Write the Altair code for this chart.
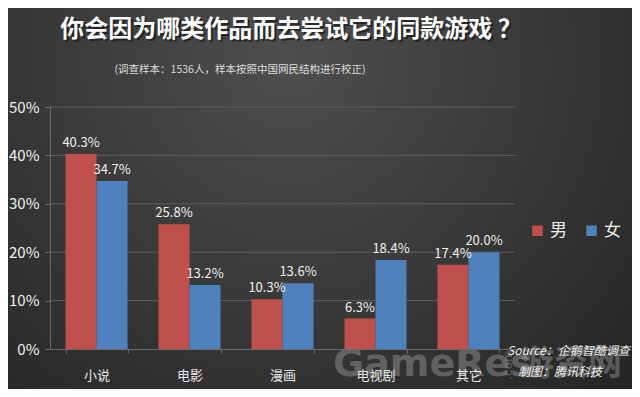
import altair as alt
import pandas as pd

categories = ["小说", "电影", "漫画", "电视剧", "其它"]
male = [40.3, 25.8, 10.3, 6.3, 17.4]
female = [34.7, 13.2, 13.6, 18.4, 20.0]
genders = ["男", "女"]
colors = ["#c0504d", "#4f81bd"]
y_ticks = [0, 10, 20, 30, 40, 50]

title_text = "你会因为哪类作品而去尝试它的同款游戏 ？"
subtitle_text = "(调查样本：1536人，样本按照中国网民结构进行校正)"
source_lines = ["Source：企鹅智酷调查", "制图：腾讯科技"]

FONT = "Noto Sans CJK SC"
W, H = 465, 242
PAD = {"left": 42, "top": 99, "right": 117, "bottom": 40}

rows = []
for c, m, f in zip(categories, male, female):
    rows.append({"cat": c, "gender": genders[0], "value": m, "label": f"{m:.1f}%"})
    rows.append({"cat": c, "gender": genders[1], "value": f, "label": f"{f:.1f}%"})
df = pd.DataFrame(rows)

one = pd.DataFrame({"a": [0]})
grid_df = pd.DataFrame({"v": y_ticks[1:]})

bg = alt.Chart(one).mark_rect(
    color=alt.Gradient(
        gradient="radial",
        stops=[alt.GradientStop(color="#4e4e4e", offset=0),
               alt.GradientStop(color="#3a3a3a", offset=0.5),
               alt.GradientStop(color="#252525", offset=1)],
        x1=0.45, y1=0.28, x2=0.45, y2=0.28, r1=0, r2=0.75,
    )
).encode(
    x=alt.value(-PAD["left"]), x2=alt.value(W + PAD["right"]),
    y=alt.value(-PAD["top"]), y2=alt.value(H + PAD["bottom"]),
)

y_scale = alt.Scale(domain=[0, 50], nice=False)
y_axis = alt.Axis(values=y_ticks, labelExpr="datum.value + '%'",
                  labelColor="#f0f0f0", labelFontSize=15, labelFont=FONT,
                  labelPadding=6, domainColor="#6a6a6a", tickColor="#6a6a6a",
                  tickSize=5, grid=False, zindex=1)

grid = alt.Chart(grid_df).mark_rule(color="#5e5e5e", strokeWidth=1).encode(
    y=alt.Y("v:Q", scale=y_scale, axis=y_axis, title=None),
    x=alt.value(0), x2=alt.value(W),
)

x_enc = alt.X("cat:N", sort=categories, title=None,
              scale=alt.Scale(paddingInner=0.333, paddingOuter=0.1667),
              axis=alt.Axis(labelAngle=0, labelColor="#e8e8e8", labelFontSize=13,
                            labelFont=FONT, labelPadding=16, domainColor="#6a6a6a",
                            tickColor="#6a6a6a", tickSize=4, tickBand="extent",
                            grid=False, zindex=1))
y_enc = alt.Y("value:Q", title=None, scale=y_scale, axis=y_axis)

base = alt.Chart(df).encode(
    x=x_enc,
    xOffset=alt.XOffset("gender:N", sort=genders),
)

bars = base.mark_bar().encode(
    y=y_enc,
    color=alt.Color("gender:N", sort=genders,
                    scale=alt.Scale(domain=genders, range=colors),
                    legend=alt.Legend(title=None, orient="none", direction="horizontal",
                                      legendX=479, legendY=115, symbolType="square",
                                      symbolSize=110, symbolStrokeWidth=0,
                                      labelFontSize=17, labelColor="#f2f2f2",
                                      labelFont=FONT, columnPadding=16, labelOffset=4,
                                      padding=0)),
)

labels = base.mark_text(baseline="bottom", dy=-4, fontSize=13, font=FONT,
                        color="#f0f0f0").encode(
    y=y_enc, text="label:N")

title_shadow = alt.Chart(one).mark_text(
    text=title_text, font=FONT, fontSize=24, fontWeight="bold", color="#111111",
    opacity=0.6, align="center", baseline="middle"
).encode(x=alt.value(243), y=alt.value(-75))
title = alt.Chart(one).mark_text(
    text=title_text, font=FONT, fontSize=24, fontWeight="bold", color="#ffffff",
    align="center", baseline="middle"
).encode(x=alt.value(241), y=alt.value(-77))
subtitle = alt.Chart(one).mark_text(
    text=subtitle_text, font=FONT, fontSize=10.5, color="#dddddd",
    align="center", baseline="middle"
).encode(x=alt.value(190), y=alt.value(-37))

wm1 = alt.Chart(one).mark_text(
    text="GameRes", font="DejaVu Sans", fontSize=38, fontWeight="bold",
    color="#aaaaaa", opacity=0.4, align="left", baseline="middle"
).encode(x=alt.value(283), y=alt.value(258))
wm2 = alt.Chart(one).mark_text(
    text=".com", font="DejaVu Sans", fontSize=12, color="#aaaaaa", opacity=0.4,
    angle=270, align="center", baseline="middle"
).encode(x=alt.value(458), y=alt.value(258))
wm3 = alt.Chart(one).mark_text(
    text="游资网", font=FONT, fontSize=34, fontWeight="bold",
    color="#aaaaaa", opacity=0.4, align="left", baseline="middle"
).encode(x=alt.value(470), y=alt.value(258))

src1 = alt.Chart(one).mark_text(
    text=source_lines[0], font=FONT, fontSize=12, fontStyle="italic", color="#f4f4f4",
    align="left", baseline="middle"
).encode(x=alt.value(457), y=alt.value(244))
src2 = alt.Chart(one).mark_text(
    text=source_lines[1], font=FONT, fontSize=12, fontStyle="italic", color="#f4f4f4",
    align="left", baseline="middle"
).encode(x=alt.value(468), y=alt.value(265))

chart = alt.layer(
    bg, grid, bars, labels, wm1, wm2, wm3, src1, src2, title_shadow, title, subtitle
).resolve_scale(y="shared").properties(
    width=W, height=H,
    autosize=alt.AutoSizeParams(type="none"),
    padding=PAD,
    background="#2e2e2e",
).configure_view(stroke=None)

chart.save("out.html", embed_options={"renderer": "svg", "actions": False})
